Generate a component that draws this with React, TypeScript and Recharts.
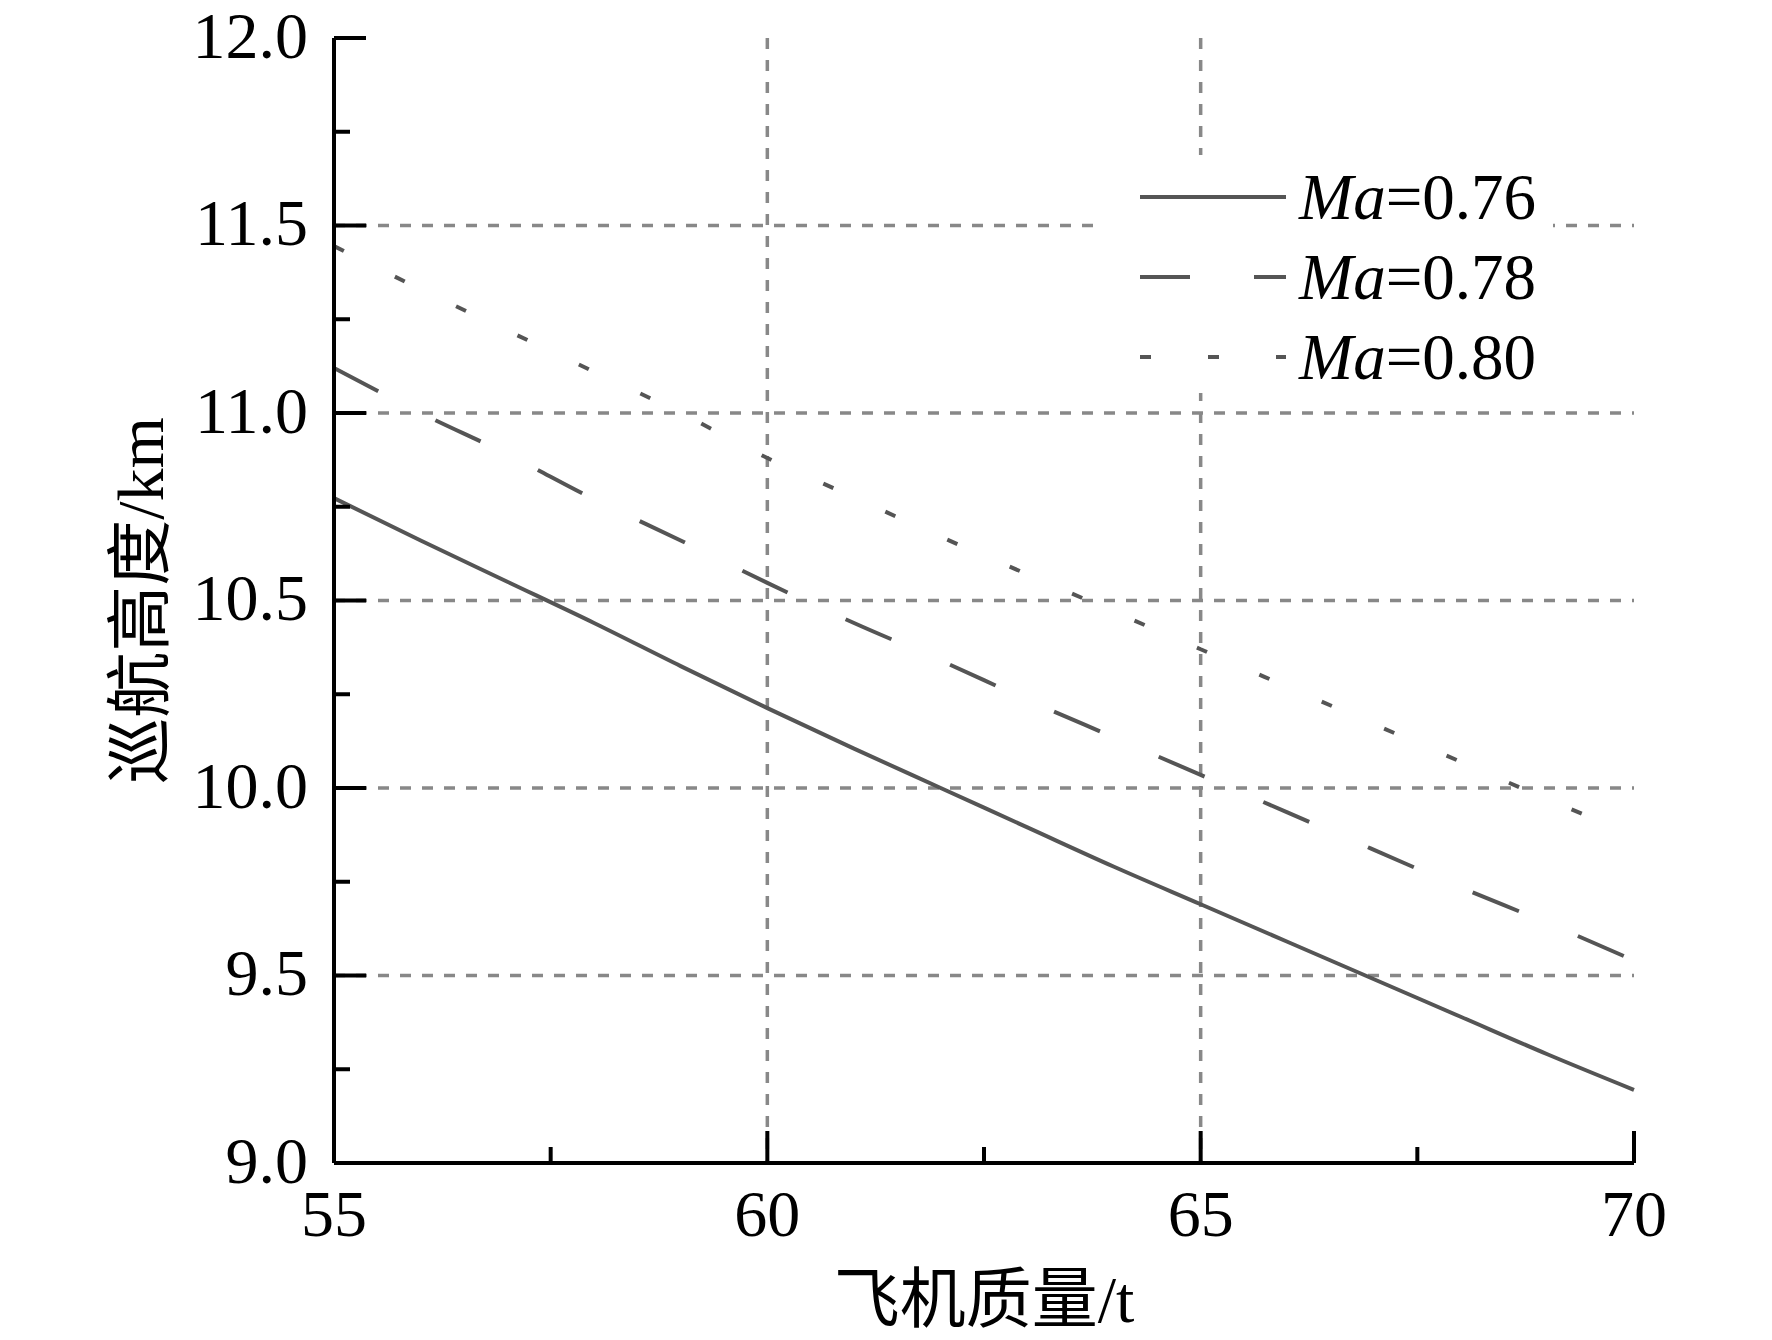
import { LineChart, Line, XAxis, YAxis, CartesianGrid, Legend } from 'recharts';

// aircraft mass (t)
const mass = [55, 56, 57, 58, 59, 60, 61, 62, 63, 64, 65, 66, 67, 68, 69, 70];
// cruise altitude (km) per Mach number
const ma076 = [10.773, 10.66, 10.55, 10.44, 10.325, 10.213, 10.105, 10.0, 9.895, 9.79, 9.69, 9.59, 9.49, 9.39, 9.29, 9.195];
const ma078 = [11.12, 11.0, 10.89, 10.77, 10.66, 10.547, 10.44, 10.34, 10.235, 10.135, 10.035, 9.935, 9.835, 9.735, 9.64, 9.54];
const ma080 = [11.445, 11.33, 11.22, 11.11, 11.0, 10.88, 10.775, 10.67, 10.57, 10.47, 10.37, 10.27, 10.17, 10.07, 9.97, 9.875];

const seriesNames = ['0.76', '0.78', '0.80'];
const xTicks = [55, 57.5, 60, 62.5, 65, 67.5, 70];
const yTicks = [9, 9.25, 9.5, 9.75, 10, 10.25, 10.5, 10.75, 11, 11.25, 11.5, 11.75, 12];
const xGrid = [60, 65];
const yGrid = [9.5, 10, 10.5, 11, 11.5];

const data = mass.map((m, i) => ({ m, a: ma076[i], b: ma078[i], c: ma080[i] }));

const series = [
  { key: 'a', name: seriesNames[0], dash: undefined },
  { key: 'b', name: seriesNames[1], dash: '50 64' },
  { key: 'c', name: seriesNames[2], dash: '11 57' },
];

const FONT = "'Liberation Serif', 'Noto Sans CJK SC', serif";
const LINE = '#555555';
const MAJOR = 32;
const MINOR = 16;

const isMajorY = (v: number) => Math.abs(v * 2 - Math.round(v * 2)) < 1e-6;
const isMajorX = (v: number) => Math.abs(v / 5 - Math.round(v / 5)) < 1e-6;

const LeftTick = (p: any) => {
  const v = p.payload.value;
  const major = isMajorY(v);
  return (
    <g>
      <line x1={p.x} x2={p.x + (major ? MAJOR : MINOR)} y1={p.y} y2={p.y} stroke="#000" strokeWidth={4} />
      {major && (
        <text x={p.x - 26} y={p.y} dy="0.3em" textAnchor="end" fontSize={66} fontFamily={FONT} fill="#000">
          {v.toFixed(1)}
        </text>
      )}
    </g>
  );
};

const RightTick = (p: any) => {
  const major = isMajorY(p.payload.value);
  return <line x1={p.x} x2={p.x - (major ? MAJOR : MINOR)} y1={p.y} y2={p.y} stroke="#000" strokeWidth={4} />;
};

const BottomTick = (p: any) => {
  const v = p.payload.value;
  const major = isMajorX(v);
  return (
    <g>
      <line x1={p.x} x2={p.x} y1={p.y} y2={p.y - (major ? MAJOR : MINOR)} stroke="#000" strokeWidth={4} />
      {major && (
        <text x={p.x} y={p.y + 73} textAnchor="middle" fontSize={66} fontFamily={FONT} fill="#000">
          {v}
        </text>
      )}
    </g>
  );
};

const TopTick = (p: any) => {
  const major = isMajorX(p.payload.value);
  return <line x1={p.x} x2={p.x} y1={p.y} y2={p.y + (major ? MAJOR : MINOR)} stroke="#000" strokeWidth={4} />;
};

const renderLegend = () => (
  <svg width={454} height={238} style={{ display: 'block', background: '#fff' }}>
    {series.map((s, i) => (
      <g key={s.key}>
        <line x1={41} x2={187} y1={42 + i * 80} y2={42 + i * 80} stroke={LINE} strokeWidth={4} strokeDasharray={s.dash} />
        <text x={200} y={64 + i * 80} fontSize={65} fontFamily={FONT} fill="#000">
          <tspan fontStyle="italic">Ma</tspan>={s.name}
        </text>
      </g>
    ))}
  </svg>
);

export default function App() {
  return (
    <div style={{ margin: '-8px 0 0 -8px', width: 1772, height: 1340 }}>
      <LineChart width={1772} height={1340} data={data} margin={{ top: 38, right: 138, bottom: 0, left: 0 }}>
        <CartesianGrid
          horizontalValues={yGrid}
          verticalValues={xGrid}
          stroke="#888888"
          strokeWidth={3.5}
          strokeDasharray="11 11"
        />
        <XAxis
          dataKey="m"
          type="number"
          domain={[55, 70]}
          ticks={xTicks}
          interval={0}
          height={177}
          tickSize={0}
          tickMargin={0}
          tick={BottomTick}
          axisLine={{ stroke: '#000', strokeWidth: 4 }}
          tickLine={false}
          label={{
            content: (props: any) => {
              const vb = props.viewBox;
              return (
                <text x={vb.x + vb.width / 2} y={vb.y + 159} textAnchor="middle" fontSize={66} fontFamily={FONT} fill="#000">
                  飞机质量/t
                </text>
              );
            },
          }}
        />
        <XAxis
          xAxisId="top"
          orientation="top"
          dataKey="m"
          type="number"
          domain={[55, 70]}
          ticks={xTicks}
          interval={0}
          height={0}
          tickSize={0}
          tickMargin={0}
          tick={TopTick}
          axisLine={{ stroke: '#000', strokeWidth: 4 }}
          tickLine={false}
        />
        <YAxis
          type="number"
          domain={[9, 12]}
          ticks={yTicks}
          interval={0}
          width={334}
          tickSize={0}
          tickMargin={0}
          tick={LeftTick}
          axisLine={{ stroke: '#000', strokeWidth: 4 }}
          tickLine={false}
          label={{
            content: (props: any) => {
              const vb = props.viewBox;
              const cy = vb.y + vb.height / 2;
              return (
                <text x={163} y={cy} transform={`rotate(-90 163 ${cy})`} textAnchor="middle" fontSize={66} fontFamily={FONT} fill="#000">
                  巡航高度/km
                </text>
              );
            },
          }}
        />
        <YAxis
          yAxisId="right"
          orientation="right"
          type="number"
          domain={[9, 12]}
          ticks={yTicks}
          interval={0}
          width={0}
          tickSize={0}
          tickMargin={0}
          tick={RightTick}
          axisLine={{ stroke: '#000', strokeWidth: 4 }}
          tickLine={false}
        />
        <Legend
          layout="vertical"
          align="center"
          verticalAlign="middle"
          content={renderLegend}
          wrapperStyle={{ position: 'absolute', left: 1099, top: 155, width: 454, height: 238 }}
        />
        {series.map((s) => (
          <Line
            key={s.key}
            dataKey={s.key}
            name={s.name}
            type="monotone"
            stroke={LINE}
            strokeWidth={4}
            strokeDasharray={s.dash}
            dot={false}
            activeDot={false}
            isAnimationActive={false}
          />
        ))}
      </LineChart>
    </div>
  );
}
